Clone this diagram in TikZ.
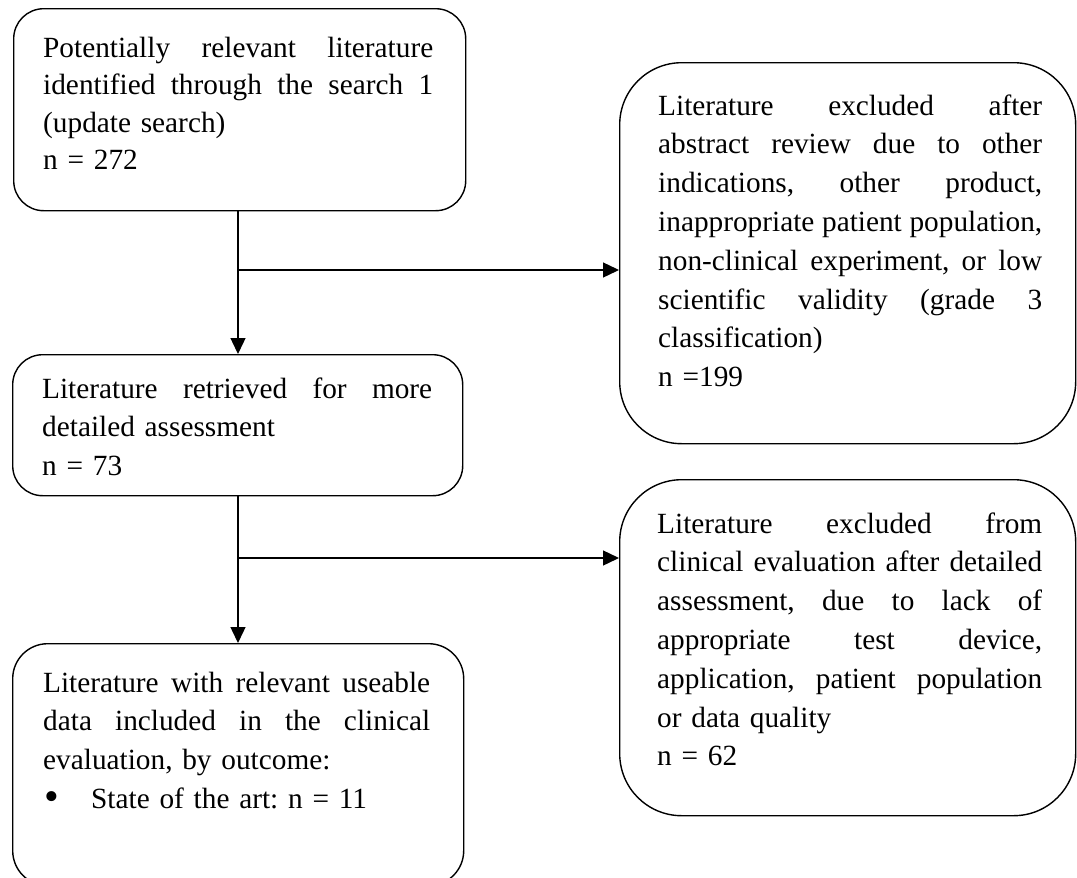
\documentclass[tikz,border=0pt]{standalone}
\usepackage{fontspec}
\setmainfont{Liberation Serif}
\usetikzlibrary{arrows.meta}
\newcommand{\jline}[1]{\leavevmode\hbox to \hsize{\spaceskip=0.25em plus 1fil\relax #1}\\}
\begin{document}
\begin{tikzpicture}[x=1pt,y=-1pt,
  boxst/.style={draw, line width=1.4pt, anchor=north west, inner sep=0pt},
  txt/.style={anchor=base west, inner sep=0pt, font=\fontsize{29.3}{38.8}\selectfont\frenchspacing},
  tx1/.style={txt, font=\fontsize{29.3}{37.5}\selectfont\frenchspacing},
  arr/.style={line width=1.4pt, -{Triangle[length=16pt,width=15pt]}},
  ln/.style={line width=1.4pt}]
\useasboundingbox (0,0) rectangle (1077,878);
% boxes
\node[boxst, rounded corners=30pt, minimum width=452pt, minimum height=202pt] (b1) at (13,8) {};
\node[boxst, rounded corners=62pt, minimum width=456pt, minimum height=381pt] (b2) at (619,62) {};
\node[boxst, rounded corners=30pt, minimum width=450pt, minimum height=141pt] (b3) at (12,354) {};
\node[boxst, rounded corners=62pt, minimum width=456pt, minimum height=336pt] (b4) at (619,479) {};
\node[boxst, rounded corners=35pt, minimum width=451pt, minimum height=242pt] (b5) at (12,643) {};
% texts
\node[tx1, text width=390pt] (t1) at (43,57) {\jline{Potentially relevant literature}\jline{identified through the search 1}(update search)\\n = 272};
\node[txt, text width=384pt] (t2) at (658,115) {\jline{Literature excluded after}\jline{abstract review due to other}\jline{indications, other product,}\jline{inappropriate patient population,}\jline{non-clinical experiment, or low}\jline{scientific validity (grade 3}classification)\\n =199};
\node[txt, text width=390pt] (t3) at (42,398) {\jline{Literature retrieved for more}detailed assessment\\n = 73};
\node[txt, text width=385pt] (t4) at (657,533) {\jline{Literature excluded from}\jline{clinical evaluation after detailed}\jline{assessment, due to lack of}\jline{appropriate test device,}\jline{application, patient population}or data quality\\n = 62};
\node[txt, text width=387pt] (t5) at (43,692) {\jline{Literature with relevant useable}\jline{data included in the clinical}evaluation, by outcome:\\\makebox[48pt][l]{\hspace{1pt}\raisebox{-2pt}{\fontsize{42}{42}\selectfont\textbullet}}State of the art: n = 11};
% connectors
\coordinate (j1) at (238,270);
\coordinate (j2) at (238,558);
\draw[arr] (b1.south -| j1) -- (b3.north -| j1);
\draw[arr] (j1) -- (j1 -| b2.west);
\draw[arr] (b3.south -| j2) -- (b5.north -| j2);
\draw[arr] (j2) -- (j2 -| b4.west);
\end{tikzpicture}
\end{document}
